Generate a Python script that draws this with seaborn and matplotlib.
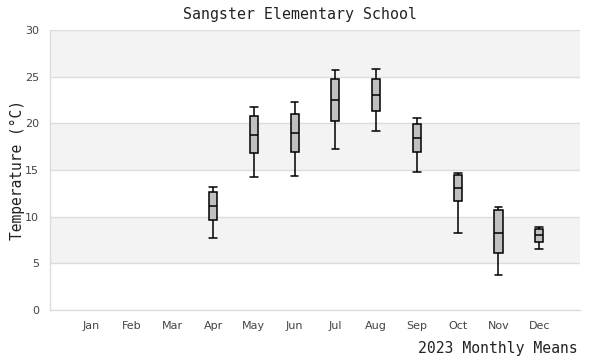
import matplotlib
matplotlib.use("Agg")
import matplotlib.pyplot as plt
import seaborn as sns
import pandas as pd
import numpy as np

months = ["Jan", "Feb", "Mar", "Apr", "May", "Jun", "Jul", "Aug", "Sep", "Oct", "Nov", "Dec"]
box_months = ["Apr", "May", "Jun", "Jul", "Aug", "Sep", "Oct", "Nov", "Dec"]
lows    = [7.7, 14.2, 14.4, 17.3, 19.15, 14.75, 8.3, 3.7, 6.5]
q1s     = [9.6, 16.8, 16.9, 20.2, 21.3, 16.9, 11.65, 6.1, 7.25]
medians = [11.1, 18.7, 18.95, 22.45, 23.05, 18.4, 13.05, 8.3, 8.0]
q3s     = [12.6, 20.75, 21.05, 24.7, 24.7, 19.9, 14.45, 10.7, 8.65]
highs   = [13.15, 21.7, 22.25, 25.7, 25.8, 20.55, 14.7, 11.0, 8.85]

rows = []
for m, a, b, c, d, e in zip(box_months, lows, q1s, medians, q3s, highs):
    for v in (a, b, c, d, e):
        rows.append({"month": m, "temp": v})
df = pd.DataFrame(rows)

sns.set_style("white")
mono = ["DejaVu Sans Mono"]

fig = plt.figure(figsize=(6, 3.6), dpi=100)
ax = fig.add_axes([50/600, 50/360, 530/600, 280/360])

for lo in range(0, 30, 5):
    if (lo // 5) % 2 == 1:
        ax.axhspan(lo, lo + 5, color="#f3f3f3", zorder=0, lw=0)

sns.boxplot(data=df, x="month", y="temp", order=months, whis=np.inf,
            width=0.2, color="#c0c0c0", linecolor="black", linewidth=1.1,
            saturation=1, ax=ax, zorder=3, capwidths=0.19)

ax.set_ylim(0, 30)
ax.set_yticks([0, 5, 10, 15, 20, 25, 30])
ax.set_xlim(-1, 12)
ax.grid(axis="y", color="#dddddd", lw=1, zorder=1)
ax.set_axisbelow(True)
for s in ["top", "right"]:
    ax.spines[s].set_visible(False)
for s in ["left", "bottom"]:
    ax.spines[s].set_color("#dddddd")
    ax.spines[s].set_linewidth(1)
ax.tick_params(axis="both", length=0, labelsize=8, colors="#444444", pad=8)
ax.set_xlabel("")
ax.set_ylabel("Temperature (°C)", fontfamily=mono, fontsize=10.5, color="#222222")
ax.yaxis.set_label_coords(-(50 - 25) / 530, 0.5)
fig.text(0.5, 1 - 14/360, "Sangster Elementary School", ha="center", va="center",
         fontfamily=mono, fontsize=10.7, color="#222222")
fig.text(578/600, 1 - 348/360, "2023 Monthly Means", ha="right", va="center",
         fontfamily=mono, fontsize=10.6, color="#222222")

fig.savefig("out.png", dpi=100)
